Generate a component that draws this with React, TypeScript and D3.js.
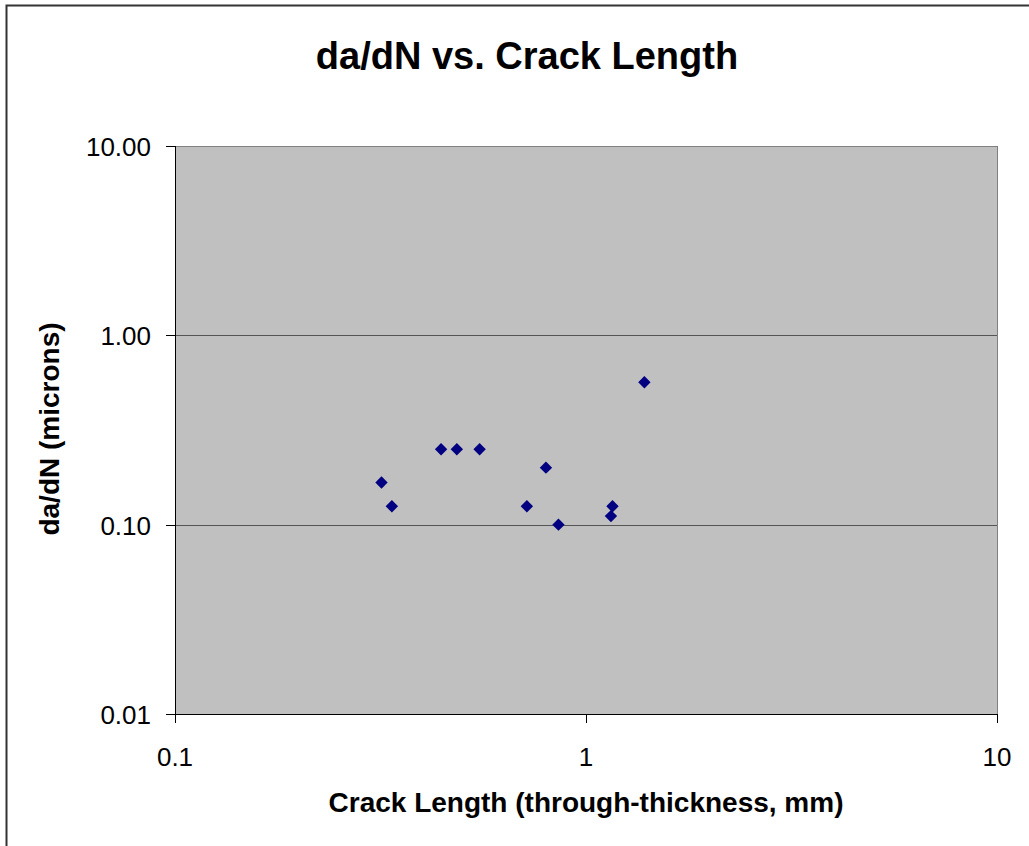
import React from "react";
import * as d3 from "d3";

const crackLength = [0.318, 0.337, 0.444, 0.485, 0.551, 0.718, 0.799, 0.857, 1.16, 1.15, 1.387];
const dadN = [0.167, 0.125, 0.25, 0.25, 0.25, 0.125, 0.2, 0.1, 0.125, 0.111, 0.565];
const xTicks = [0.1, 1, 10];
const yTicks = [0.01, 0.1, 1, 10];

const W = 1029;
const H = 846;
const left = 175, right = 997, top = 146, bottom = 714;

export default function App() {
  const x = d3.scaleLog().domain([0.1, 10]).range([left, right]);
  const y = d3.scaleLog().domain([0.01, 10]).range([bottom, top]);
  const diamond = d3.symbol().type(d3.symbolDiamond2).size(98)();
  const font = "Arial, 'Liberation Sans', sans-serif";
  return (
    <svg width={W} height={H} style={{ position: "absolute", left: 0, top: 0 }}>
      <rect x={0} y={0} width={W} height={H} fill="#fff" />
      <path d={`M6.5,${H} V5.5 H${W}`} fill="none" stroke="#333" strokeWidth={2} />
      <text x={527} y={69} textAnchor="middle" fontFamily={font} fontWeight="bold" fontSize={38}>
        da/dN vs. Crack Length
      </text>
      <rect x={left} y={top} width={right - left} height={bottom - top} fill="#c0c0c0" stroke="#808080" strokeWidth={1} shapeRendering="crispEdges" />
      {yTicks.filter(t => t !== 0.01 && t !== 10).map(t => (
        <line key={t} x1={left} x2={right} y1={Math.round(y(t)) + 0.5} y2={Math.round(y(t)) + 0.5} stroke="#555" strokeWidth={1} />
      ))}
      <line x1={left + 0.5} x2={left + 0.5} y1={top} y2={bottom} stroke="#000" strokeWidth={1} />
      <line x1={left} x2={right} y1={bottom + 0.5} y2={bottom + 0.5} stroke="#000" strokeWidth={1} />
      {yTicks.map(t => (
        <g key={t}>
          <line x1={left - 9} x2={left} y1={Math.round(y(t)) + 0.5} y2={Math.round(y(t)) + 0.5} stroke="#000" />
          <text x={151} y={y(t) + 10} textAnchor="end" fontFamily={font} fontSize={26}>{d3.format(".2f")(t)}</text>
        </g>
      ))}
      {xTicks.map(t => (
        <g key={t}>
          <line x1={Math.round(x(t)) + 0.5} x2={Math.round(x(t)) + 0.5} y1={bottom} y2={bottom + 9} stroke="#000" />
          <text x={x(t)} y={766} textAnchor="middle" fontFamily={font} fontSize={26}>{String(t)}</text>
        </g>
      ))}
      {crackLength.map((c, i) => (
        <path key={i} d={diamond} transform={`translate(${x(c)},${y(dadN[i])})`} fill="#000080" />
      ))}
      <text x={586} y={812} textAnchor="middle" fontFamily={font} fontWeight="bold" fontSize={28}>
        Crack Length (through-thickness, mm)
      </text>
      <text transform={`translate(59,429) rotate(-90)`} textAnchor="middle" fontFamily={font} fontWeight="bold" fontSize={28}>
        da/dN (microns)
      </text>
    </svg>
  );
}
